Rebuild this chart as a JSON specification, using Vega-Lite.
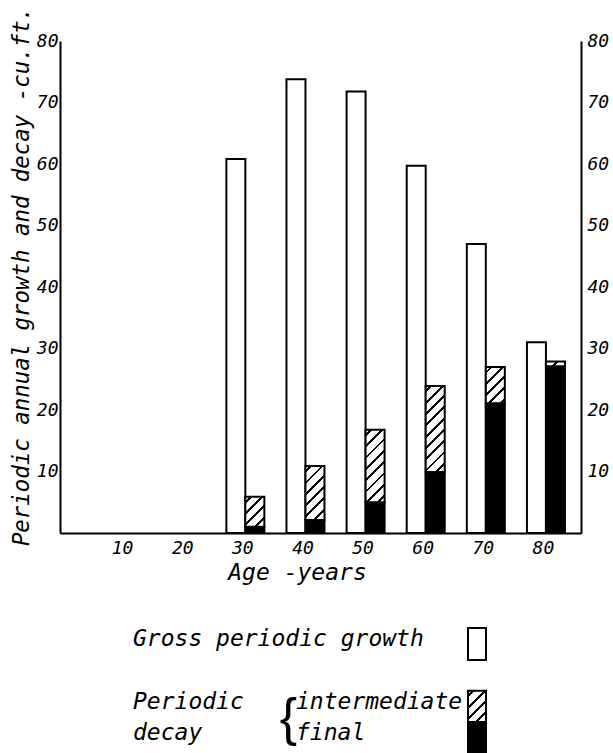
{
  "$schema": "https://vega.github.io/schema/vega-lite/v6.json",
  "padding": {"left": 10, "top": 6, "right": 0, "bottom": 0},
  "background": "white",
  "spacing": 40,
  "datasets": {
    "bars": [
      {"age": 30, "gross": 60.8, "decay_final": 1.0, "decay_total": 5.9},
      {"age": 40, "gross": 73.8, "decay_final": 2.1, "decay_total": 10.9},
      {"age": 50, "gross": 71.8, "decay_final": 5.0, "decay_total": 16.8},
      {"age": 60, "gross": 59.7, "decay_final": 9.9, "decay_total": 23.9},
      {"age": 70, "gross": 47.0, "decay_final": 21.1, "decay_total": 27.0},
      {"age": 80, "gross": 31.0, "decay_final": 27.1, "decay_total": 27.9}
    ],
    "legend": [
      {"series": "gross", "col": "label", "text": "Gross periodic growth"},
      {"series": "intermediate", "col": "label", "text": "Periodic"},
      {"series": "final", "col": "label", "text": "decay"},
      {"series": "intermediate", "col": "item", "text": "intermediate"},
      {"series": "final", "col": "item", "text": "final"}
    ],
    "legendKeys": [
      {"series": "gross", "col": "key"},
      {"series": "intermediate", "col": "key"},
      {"series": "final", "col": "key"}
    ],
    "legendBrace": [
      {"series": "intermediate", "col": "item", "text": "{"}
    ]
  },
  "config": {
    "view": {"stroke": null},
    "axis": {
      "domainColor": "black", "domainWidth": 2, "ticks": false, "grid": false,
      "labelFont": "DejaVu Sans Mono", "labelFontStyle": "italic", "labelFontSize": 18, "labelColor": "black",
      "titleFont": "DejaVu Sans Mono", "titleFontStyle": "italic", "titleFontWeight": "normal", "titleColor": "black",
      "labelOverlap": false
    }
  },
  "vconcat": [
    {
      "width": 521,
      "height": 492,
      "data": {"name": "bars"},
      "encoding": {
        "x": {"field": "age", "type": "quantitative", "scale": {"domain": [0, 85], "nice": false},
              "axis": {"values": [10, 20, 30, 40, 50, 60, 70, 80], "title": "Age -years", "titleFontSize": 23, "labelPadding": 6, "labelOffset": -3, "titlePadding": 4, "titleX": 237}}
      },
      "layer": [
        {
          "mark": {"type": "bar", "orient": "vertical", "fill": "white", "stroke": "black", "strokeWidth": 2, "width": 19, "xOffset": -9.5},
          "encoding": {
            "y": {"field": "gross", "type": "quantitative", "stack": null, "scale": {"domain": [0, 80], "nice": false},
                  "axis": {"orient": "left", "values": [10, 20, 30, 40, 50, 60, 70, 80], "title": "Periodic annual growth and decay -cu.ft.", "titleFontSize": 22.4, "labelPadding": 2, "titlePadding": 3, "titleY": 235}}
          }
        },
        {
          "mark": {"type": "bar", "orient": "vertical", "fill": "black", "stroke": "black", "strokeWidth": 2, "width": 19, "xOffset": 9.5},
          "encoding": {
            "y": {"field": "decay_final", "type": "quantitative", "stack": null,
                  "axis": {"orient": "right", "values": [10, 20, 30, 40, 50, 60, 70, 80], "title": null, "labelPadding": 6}}
          }
        },
        {
          "transform": [{"filter": "datum.age == 30"}],
          "mark": {"type": "bar", "orient": "vertical", "stroke": "black", "strokeWidth": 2, "width": 19, "xOffset": 9.5,
            "fill": {"gradient": "linear", "x1": 0, "y1": 0, "x2": 0.736, "y2": 1.166, "stops": [
              {"offset": 0, "color": "white"}, {"offset": 0.086, "color": "white"}, {"offset": 0.086, "color": "black"}, {"offset": 0.144, "color": "black"}, {"offset": 0.144, "color": "white"},
              {"offset": 0.317, "color": "white"}, {"offset": 0.317, "color": "black"}, {"offset": 0.375, "color": "black"}, {"offset": 0.375, "color": "white"},
              {"offset": 0.548, "color": "white"}, {"offset": 0.548, "color": "black"}, {"offset": 0.605, "color": "black"}, {"offset": 0.605, "color": "white"},
              {"offset": 0.778, "color": "white"}, {"offset": 0.778, "color": "black"}, {"offset": 0.836, "color": "black"}, {"offset": 0.836, "color": "white"},
              {"offset": 1, "color": "white"}]}},
          "encoding": {
            "y": {"field": "decay_final", "type": "quantitative", "axis": null},
            "y2": {"field": "decay_total"}
          }
        },
        {
          "transform": [{"filter": "datum.age == 40"}],
          "mark": {"type": "bar", "orient": "vertical", "stroke": "black", "strokeWidth": 2, "width": 19, "xOffset": 9.5,
            "fill": {"gradient": "linear", "x1": 0, "y1": 0, "x2": 0.4224, "y2": 1.2026, "stops": [
              {"offset": 0, "color": "white"}, {"offset": 0.058, "color": "white"}, {"offset": 0.058, "color": "black"}, {"offset": 0.097, "color": "black"}, {"offset": 0.097, "color": "white"},
              {"offset": 0.213, "color": "white"}, {"offset": 0.213, "color": "black"}, {"offset": 0.251, "color": "black"}, {"offset": 0.251, "color": "white"},
              {"offset": 0.368, "color": "white"}, {"offset": 0.368, "color": "black"}, {"offset": 0.406, "color": "black"}, {"offset": 0.406, "color": "white"},
              {"offset": 0.522, "color": "white"}, {"offset": 0.522, "color": "black"}, {"offset": 0.561, "color": "black"}, {"offset": 0.561, "color": "white"},
              {"offset": 0.677, "color": "white"}, {"offset": 0.677, "color": "black"}, {"offset": 0.716, "color": "black"}, {"offset": 0.716, "color": "white"},
              {"offset": 0.832, "color": "white"}, {"offset": 0.832, "color": "black"}, {"offset": 0.870, "color": "black"}, {"offset": 0.870, "color": "white"},
              {"offset": 1, "color": "white"}]}},
          "encoding": {
            "y": {"field": "decay_final", "type": "quantitative", "axis": null},
            "y2": {"field": "decay_total"}
          }
        },
        {
          "transform": [{"filter": "datum.age == 50"}],
          "mark": {"type": "bar", "orient": "vertical", "stroke": "black", "strokeWidth": 2, "width": 19, "xOffset": 9.5,
            "fill": {"gradient": "linear", "x1": 0, "y1": 0, "x2": 0.309, "y2": 1.1806, "stops": [
              {"offset": 0, "color": "white"}, {"offset": 0.0463, "color": "white"}, {"offset": 0.0463, "color": "black"}, {"offset": 0.0772, "color": "black"}, {"offset": 0.0772, "color": "white"},
              {"offset": 0.1698, "color": "white"}, {"offset": 0.1698, "color": "black"}, {"offset": 0.2007, "color": "black"}, {"offset": 0.2007, "color": "white"},
              {"offset": 0.2933, "color": "white"}, {"offset": 0.2933, "color": "black"}, {"offset": 0.3242, "color": "black"}, {"offset": 0.3242, "color": "white"},
              {"offset": 0.4169, "color": "white"}, {"offset": 0.4169, "color": "black"}, {"offset": 0.4478, "color": "black"}, {"offset": 0.4478, "color": "white"},
              {"offset": 0.5404, "color": "white"}, {"offset": 0.5404, "color": "black"}, {"offset": 0.5713, "color": "black"}, {"offset": 0.5713, "color": "white"},
              {"offset": 0.6639, "color": "white"}, {"offset": 0.6639, "color": "black"}, {"offset": 0.6948, "color": "black"}, {"offset": 0.6948, "color": "white"},
              {"offset": 0.7874, "color": "white"}, {"offset": 0.7874, "color": "black"}, {"offset": 0.8183, "color": "black"}, {"offset": 0.8183, "color": "white"},
              {"offset": 0.9109, "color": "white"}, {"offset": 0.9109, "color": "black"}, {"offset": 0.9418, "color": "black"}, {"offset": 0.9418, "color": "white"},
              {"offset": 1, "color": "white"}]}},
          "encoding": {
            "y": {"field": "decay_final", "type": "quantitative", "axis": null},
            "y2": {"field": "decay_total"}
          }
        },
        {
          "transform": [{"filter": "datum.age == 60"}],
          "mark": {"type": "bar", "orient": "vertical", "stroke": "black", "strokeWidth": 2, "width": 19, "xOffset": 9.5,
            "fill": {"gradient": "linear", "x1": 0, "y1": 0, "x2": 0.2569, "y2": 1.1642, "stops": [
              {"offset": 0, "color": "white"}, {"offset": 0.0404, "color": "white"}, {"offset": 0.0404, "color": "black"}, {"offset": 0.0673, "color": "black"}, {"offset": 0.0673, "color": "white"},
              {"offset": 0.1480, "color": "white"}, {"offset": 0.1480, "color": "black"}, {"offset": 0.1749, "color": "black"}, {"offset": 0.1749, "color": "white"},
              {"offset": 0.2557, "color": "white"}, {"offset": 0.2557, "color": "black"}, {"offset": 0.2826, "color": "black"}, {"offset": 0.2826, "color": "white"},
              {"offset": 0.3633, "color": "white"}, {"offset": 0.3633, "color": "black"}, {"offset": 0.3902, "color": "black"}, {"offset": 0.3902, "color": "white"},
              {"offset": 0.4709, "color": "white"}, {"offset": 0.4709, "color": "black"}, {"offset": 0.4978, "color": "black"}, {"offset": 0.4978, "color": "white"},
              {"offset": 0.5786, "color": "white"}, {"offset": 0.5786, "color": "black"}, {"offset": 0.6055, "color": "black"}, {"offset": 0.6055, "color": "white"},
              {"offset": 0.6862, "color": "white"}, {"offset": 0.6862, "color": "black"}, {"offset": 0.7131, "color": "black"}, {"offset": 0.7131, "color": "white"},
              {"offset": 0.7938, "color": "white"}, {"offset": 0.7938, "color": "black"}, {"offset": 0.8207, "color": "black"}, {"offset": 0.8207, "color": "white"},
              {"offset": 0.9015, "color": "white"}, {"offset": 0.9015, "color": "black"}, {"offset": 0.9284, "color": "black"}, {"offset": 0.9284, "color": "white"},
              {"offset": 1, "color": "white"}]}},
          "encoding": {
            "y": {"field": "decay_final", "type": "quantitative", "axis": null},
            "y2": {"field": "decay_total"}
          }
        },
        {
          "transform": [{"filter": "datum.age == 70"}],
          "mark": {"type": "bar", "orient": "vertical", "stroke": "black", "strokeWidth": 2, "width": 19, "xOffset": 9.5,
            "fill": {"gradient": "linear", "x1": 0, "y1": 0, "x2": 0.6259, "y2": 1.1958, "stops": [
              {"offset": 0, "color": "white"}, {"offset": 0.0767, "color": "white"}, {"offset": 0.0767, "color": "black"}, {"offset": 0.1279, "color": "black"}, {"offset": 0.1279, "color": "white"},
              {"offset": 0.2813, "color": "white"}, {"offset": 0.2813, "color": "black"}, {"offset": 0.3325, "color": "black"}, {"offset": 0.3325, "color": "white"},
              {"offset": 0.4859, "color": "white"}, {"offset": 0.4859, "color": "black"}, {"offset": 0.5371, "color": "black"}, {"offset": 0.5371, "color": "white"},
              {"offset": 0.6905, "color": "white"}, {"offset": 0.6905, "color": "black"}, {"offset": 0.7417, "color": "black"}, {"offset": 0.7417, "color": "white"},
              {"offset": 0.8951, "color": "white"}, {"offset": 0.8951, "color": "black"}, {"offset": 0.9463, "color": "black"}, {"offset": 0.9463, "color": "white"},
              {"offset": 1, "color": "white"}]}},
          "encoding": {
            "y": {"field": "decay_final", "type": "quantitative", "axis": null},
            "y2": {"field": "decay_total"}
          }
        },
        {
          "transform": [{"filter": "datum.age == 80"}],
          "mark": {"type": "bar", "orient": "vertical", "stroke": "black", "strokeWidth": 2, "width": 19, "xOffset": 9.5,
            "fill": {"gradient": "linear", "x1": 0, "y1": 0, "x2": 1.18, "y2": 0.304, "stops": [
              {"offset": 0, "color": "white"}, {"offset": 0.441, "color": "white"}, {"offset": 0.441, "color": "black"}, {"offset": 0.559, "color": "black"}, {"offset": 0.559, "color": "white"},
              {"offset": 1, "color": "white"}]}},
          "encoding": {
            "y": {"field": "decay_final", "type": "quantitative", "axis": null},
            "y2": {"field": "decay_total"}
          }
        }
      ],
      "resolve": {"axis": {"y": "independent"}}
    },
    {
      "width": 521,
      "height": 94,
      "encoding": {
        "x": {"field": "col", "type": "nominal", "scale": {"type": "point", "domain": ["label", "item", "key"], "range": [73, 417], "padding": 0}, "axis": null},
        "y": {"field": "series", "type": "nominal", "scale": {"type": "point", "domain": ["gross", "gap", "intermediate", "final"], "range": [0, 94], "padding": 0}, "axis": null}
      },
      "layer": [
        {
          "data": {"name": "legend"},
          "transform": [{"filter": "datum.col == 'label'"}],
          "mark": {"type": "text", "align": "left", "baseline": "middle", "font": "DejaVu Sans Mono", "fontStyle": "italic", "fontSize": 23, "color": "black", "dy": -5},
          "encoding": {"text": {"field": "text"}}
        },
        {
          "data": {"name": "legend"},
          "transform": [{"filter": "datum.col == 'item'"}],
          "mark": {"type": "text", "align": "left", "baseline": "middle", "font": "DejaVu Sans Mono", "fontStyle": "italic", "fontSize": 23, "color": "black", "dx": -9, "dy": -5},
          "encoding": {"text": {"field": "text"}}
        },
        {
          "data": {"name": "legendBrace"},
          "mark": {"type": "text", "align": "right", "baseline": "middle", "font": "Liberation Sans Narrow, Liberation Sans", "fontSize": 52, "color": "black", "dx": -8, "dy": 12},
          "encoding": {"text": {"field": "text"}}
        },
        {
          "data": {"name": "legendKeys"},
          "transform": [{"filter": "datum.series == 'gross'"}],
          "mark": {"type": "point", "shape": "M-0.5625,-1H0.5625V1H-0.5625Z", "size": 1024, "filled": true, "fill": "white", "stroke": "black", "strokeWidth": 2, "opacity": 1}
        },
        {
          "data": {"name": "legendKeys"},
          "transform": [{"filter": "datum.series == 'intermediate'"}],
          "mark": {"type": "point", "shape": "M-0.5625,-1H0.5625V1H-0.5625Z", "size": 1024, "filled": true, "stroke": "black", "strokeWidth": 2, "opacity": 1,
            "fill": {"gradient": "linear", "x1": 0, "y1": 0, "x2": 0.6677, "y2": 1.187, "stops": [
              {"offset": 0, "color": "white"}, {"offset": 0.0849, "color": "white"}, {"offset": 0.0849, "color": "black"}, {"offset": 0.1414, "color": "black"}, {"offset": 0.1414, "color": "white"},
              {"offset": 0.3111, "color": "white"}, {"offset": 0.3111, "color": "black"}, {"offset": 0.3676, "color": "black"}, {"offset": 0.3676, "color": "white"},
              {"offset": 0.5373, "color": "white"}, {"offset": 0.5373, "color": "black"}, {"offset": 0.5939, "color": "black"}, {"offset": 0.5939, "color": "white"},
              {"offset": 0.7636, "color": "white"}, {"offset": 0.7636, "color": "black"}, {"offset": 0.8201, "color": "black"}, {"offset": 0.8201, "color": "white"},
              {"offset": 1, "color": "white"}]}}
        },
        {
          "data": {"name": "legendKeys"},
          "transform": [{"filter": "datum.series == 'final'"}],
          "mark": {"type": "point", "shape": "M-0.5625,-1H0.5625V1H-0.5625Z", "size": 1024, "filled": true, "fill": "black", "stroke": "black", "strokeWidth": 2, "opacity": 1}
        }
      ]
    }
  ]
}
